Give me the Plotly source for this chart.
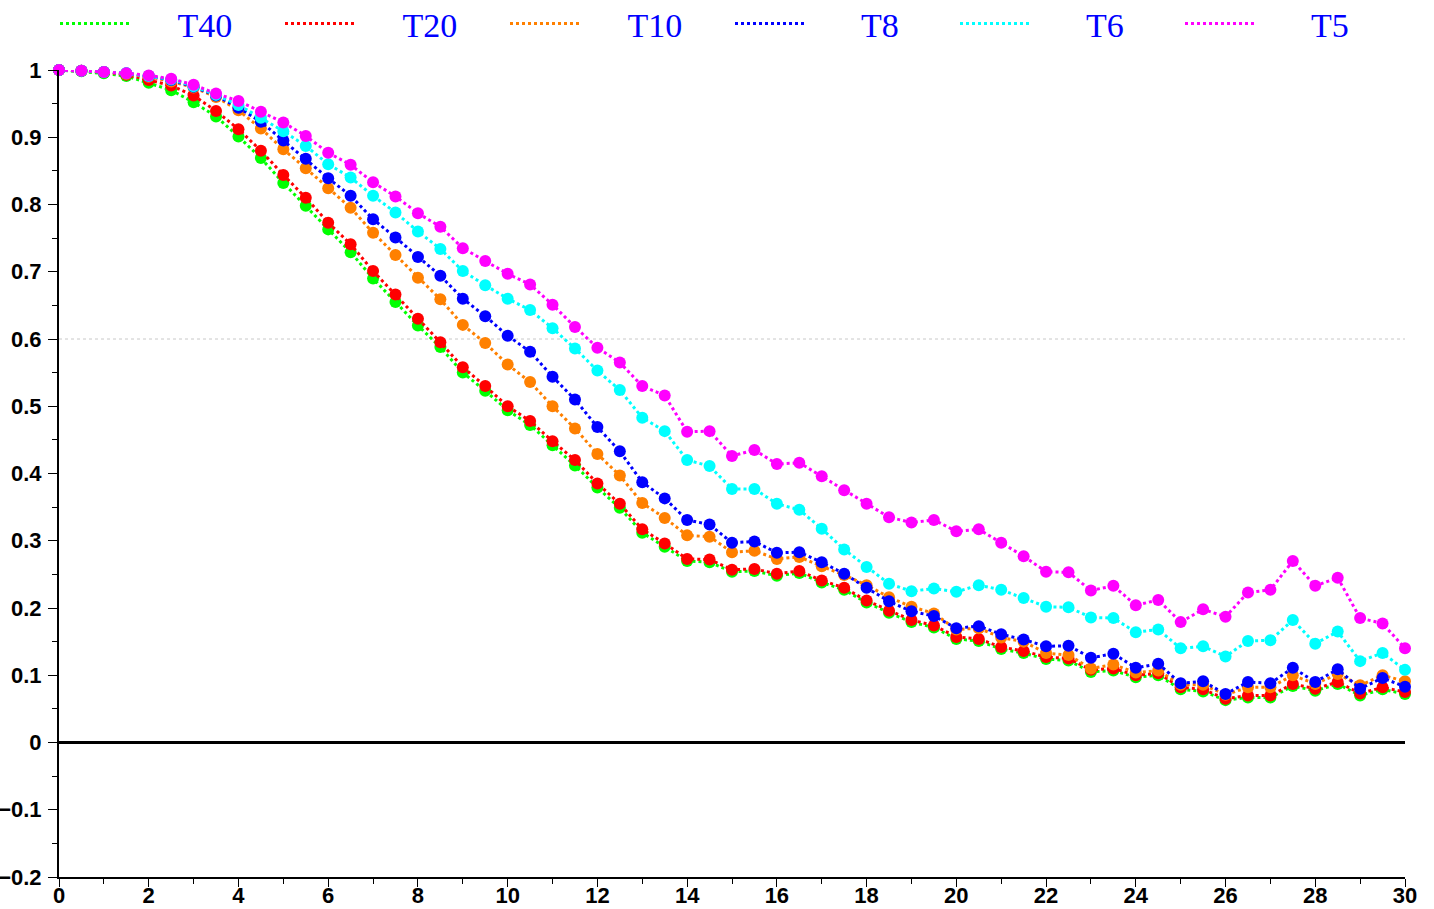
import plotly.graph_objects as go

x_vals = [i * 0.5 for i in range(61)]

T40 = [1.000, 0.998, 0.995, 0.991, 0.981, 0.970, 0.952, 0.931, 0.901, 0.869,
       0.832, 0.798, 0.763, 0.729, 0.690, 0.655, 0.620, 0.588, 0.550, 0.523,
       0.494, 0.472, 0.442, 0.412, 0.379, 0.349, 0.312, 0.291, 0.270, 0.268,
       0.254, 0.255, 0.248, 0.252, 0.238, 0.227, 0.208, 0.193, 0.179, 0.171,
       0.154, 0.151, 0.139, 0.133, 0.124, 0.122, 0.105, 0.107, 0.097, 0.100,
       0.079, 0.076, 0.063, 0.067, 0.067, 0.084, 0.077, 0.087, 0.070, 0.079,
       0.072]
T20 = [1.000, 0.999, 0.997, 0.993, 0.985, 0.977, 0.962, 0.939, 0.912, 0.880,
       0.844, 0.810, 0.773, 0.741, 0.701, 0.666, 0.630, 0.595, 0.558, 0.530,
       0.500, 0.478, 0.448, 0.420, 0.385, 0.355, 0.317, 0.296, 0.273, 0.272,
       0.257, 0.258, 0.251, 0.255, 0.241, 0.230, 0.211, 0.196, 0.182, 0.174,
       0.157, 0.154, 0.142, 0.136, 0.127, 0.125, 0.108, 0.110, 0.100, 0.103,
       0.082, 0.079, 0.065, 0.070, 0.070, 0.087, 0.080, 0.090, 0.073, 0.082,
       0.075]
T10 = [1.000, 0.999, 0.997, 0.994, 0.990, 0.983, 0.974, 0.960, 0.940, 0.913,
       0.882, 0.854, 0.824, 0.795, 0.758, 0.725, 0.691, 0.659, 0.621, 0.594,
       0.562, 0.536, 0.500, 0.467, 0.429, 0.397, 0.356, 0.334, 0.308, 0.306,
       0.283, 0.285, 0.273, 0.276, 0.262, 0.249, 0.234, 0.216, 0.202, 0.192,
       0.168, 0.170, 0.156, 0.150, 0.133, 0.130, 0.110, 0.116, 0.104, 0.107,
       0.086, 0.086, 0.071, 0.082, 0.082, 0.100, 0.087, 0.102, 0.085, 0.100,
       0.091]
T8 = [1.000, 0.999, 0.997, 0.995, 0.991, 0.985, 0.975, 0.962, 0.944, 0.923,
      0.895, 0.868, 0.839, 0.813, 0.778, 0.751, 0.722, 0.694, 0.660, 0.634,
      0.605, 0.581, 0.544, 0.510, 0.469, 0.433, 0.387, 0.363, 0.331, 0.324,
      0.297, 0.299, 0.282, 0.283, 0.268, 0.251, 0.230, 0.210, 0.195, 0.188,
      0.170, 0.173, 0.161, 0.153, 0.143, 0.144, 0.126, 0.132, 0.111, 0.117,
      0.088, 0.091, 0.072, 0.090, 0.088, 0.111, 0.090, 0.109, 0.080, 0.096,
      0.083]
T6 = [1.000, 0.999, 0.997, 0.995, 0.991, 0.986, 0.976, 0.963, 0.948, 0.929,
      0.909, 0.887, 0.860, 0.840, 0.813, 0.788, 0.760, 0.734, 0.701, 0.680,
      0.660, 0.643, 0.616, 0.586, 0.553, 0.524, 0.483, 0.463, 0.420, 0.411,
      0.377, 0.377, 0.355, 0.346, 0.318, 0.287, 0.261, 0.236, 0.225, 0.229,
      0.224, 0.234, 0.227, 0.215, 0.202, 0.201, 0.186, 0.185, 0.164, 0.168,
      0.140, 0.143, 0.128, 0.151, 0.152, 0.182, 0.147, 0.165, 0.121, 0.133,
      0.108]
T5 = [1.000, 0.999, 0.997, 0.995, 0.992, 0.987, 0.978, 0.965, 0.954, 0.938,
      0.922, 0.902, 0.877, 0.859, 0.833, 0.812, 0.787, 0.767, 0.735, 0.716,
      0.697, 0.681, 0.651, 0.618, 0.587, 0.565, 0.530, 0.516, 0.462, 0.463,
      0.426, 0.435, 0.414, 0.416, 0.396, 0.375, 0.355, 0.335, 0.327, 0.331,
      0.314, 0.317, 0.297, 0.277, 0.254, 0.253, 0.226, 0.233, 0.204, 0.212,
      0.179, 0.198, 0.187, 0.223, 0.227, 0.270, 0.233, 0.245, 0.185, 0.177,
      0.140]

series_names = ["T40", "T20", "T10", "T8", "T6", "T5"]
series_data = [T40, T20, T10, T8, T6, T5]
series_colors = ["#00ff00", "#ff0000", "#ff8000", "#0000ff", "#00ffff", "#ff00ff"]

fig = go.Figure()
for name, ys, col in zip(series_names, series_data, series_colors):
    fig.add_trace(go.Scatter(
        x=x_vals, y=ys, name=name, mode="lines+markers",
        line=dict(color=col, width=3, dash="dot"),
        marker=dict(color=col, size=12, line=dict(width=0)),
        cliponaxis=False, showlegend=False,
    ))
# legend entries: dotted line sample only, label roughly centred in its slot
for name, col in zip(series_names, series_colors):
    pad = "\u2003\u2005" + "\u2005" * (3 - len(name))
    fig.add_trace(go.Scatter(
        x=[None], y=[None], name=pad + name, mode="lines",
        line=dict(color=col, width=3, dash="dot"), showlegend=True,
    ))

fig.add_hline(y=0.6, line=dict(color="#c8c8c8", width=1, dash="dot"), layer="below")

axis_font = dict(family="Liberation Sans, Arial", size=22, color="black", weight="bold")

fig.update_layout(
    width=1434, height=909,
    margin=dict(l=59, r=29, t=70, b=32, autoexpand=False),
    plot_bgcolor="white", paper_bgcolor="white",
    showlegend=True,
    legend=dict(
        orientation="h", x=-4 / 1346, xref="paper", xanchor="left",
        y=(877 - 24) / 807, yref="paper", yanchor="middle",
        font=dict(family="Liberation Serif, Times New Roman, serif", size=34, color="#0000ff"),
        itemwidth=70, entrywidth=140, entrywidthmode="pixels",
        bgcolor="rgba(0,0,0,0)", borderwidth=0, itemclick=False,
        tracegroupgap=0,
    ),
    xaxis=dict(
        range=[0, 30], tick0=0, dtick=2, showgrid=False, zeroline=False,
        showline=True, linecolor="black", linewidth=2,
        ticks="outside", ticklen=8, tickwidth=1, tickcolor="black",
        minor=dict(dtick=1, ticks="outside", ticklen=5, tickcolor="black"),
        tickfont=axis_font, ticklabelstandoff=-10,
    ),
    yaxis=dict(
        range=[-0.2, 1], tick0=0, dtick=0.1, showgrid=False,
        zeroline=True, zerolinecolor="black", zerolinewidth=3,
        showline=True, linecolor="black", linewidth=2,
        ticks="outside", ticklen=9, tickwidth=1, tickcolor="black",
        minor=dict(dtick=0.05, ticks="outside", ticklen=5, tickcolor="black"),
        tickfont=axis_font, ticklabelstandoff=2,
    ),
)

fig.write_html("out.html")
